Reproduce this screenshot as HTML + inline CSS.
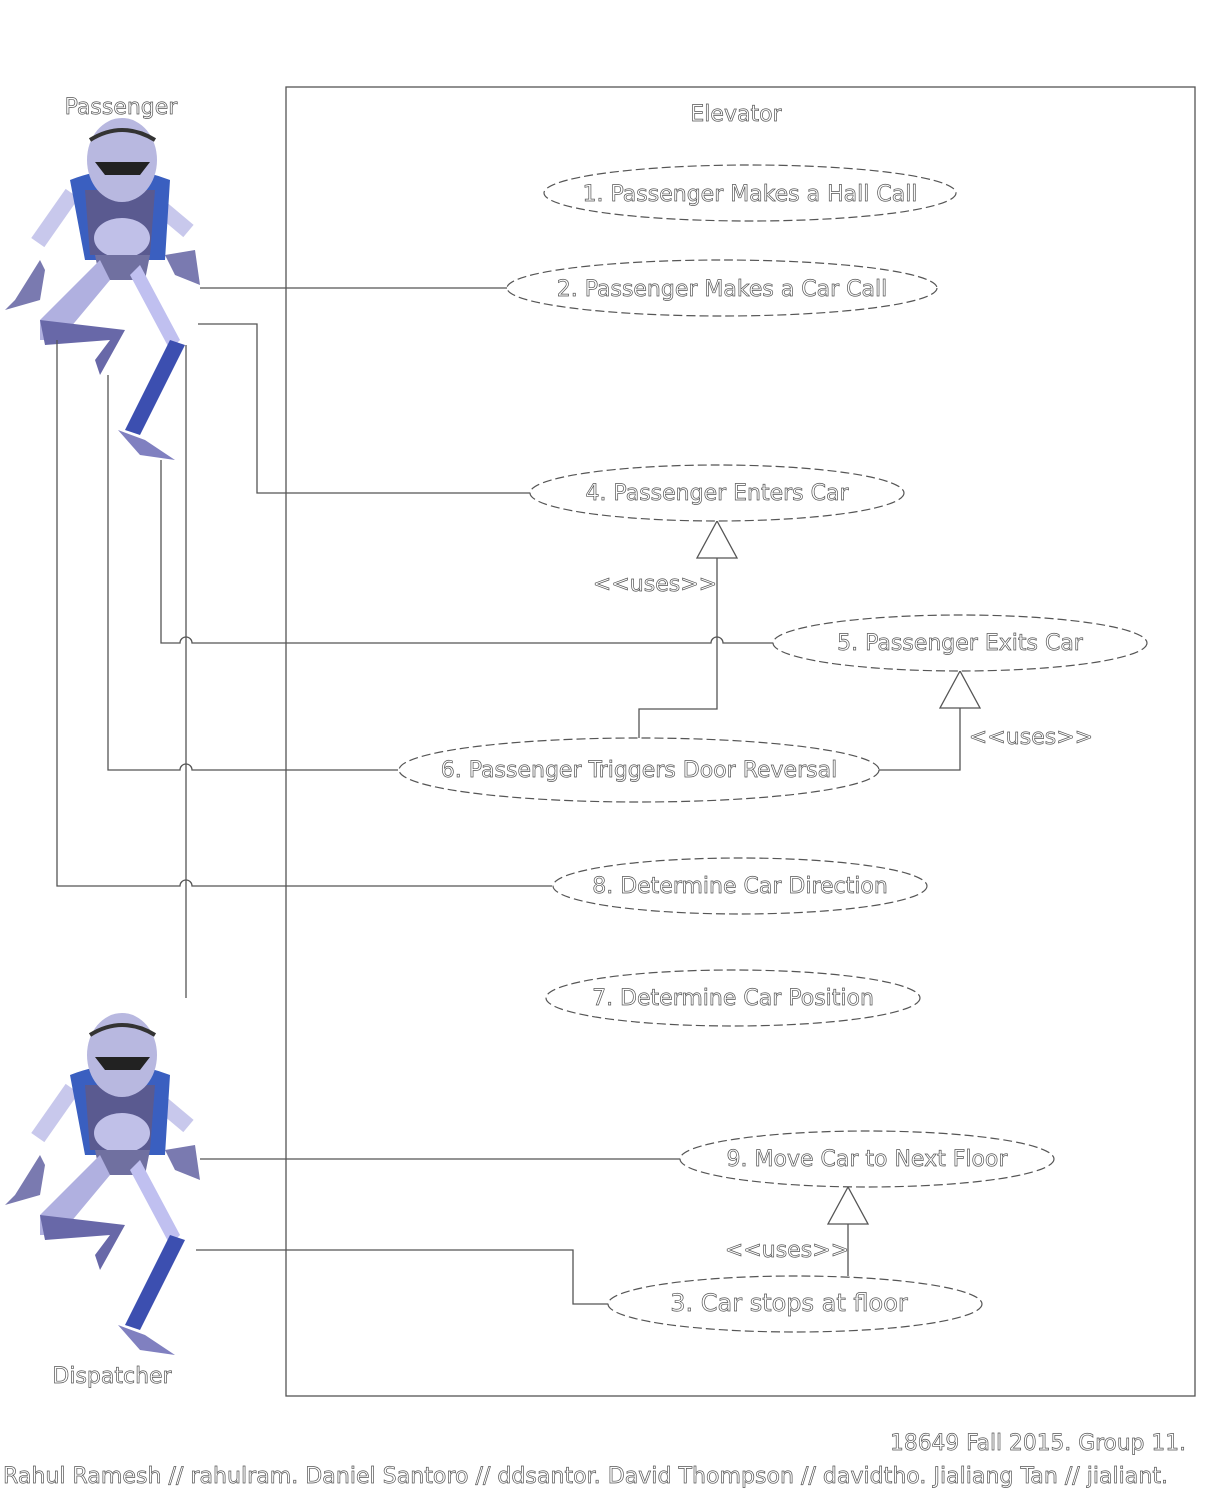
<!DOCTYPE html>
<html><head><meta charset="utf-8"><style>
html,body{margin:0;padding:0;background:#fff;width:1226px;height:1504px;overflow:hidden}
svg text{font-family:"DejaVu Sans","Liberation Sans",sans-serif;fill:#fff;stroke:#555;stroke-width:0.7}
</style></head><body>
<svg width="1226" height="1504" viewBox="0 0 1226 1504" xmlns="http://www.w3.org/2000/svg">
<defs>
<g id="robot">
 <path d="M40,260 L15,300 L5,310 L40,300 L45,270Z" fill="#7a7ab0"/>
 <rect x="25" y="210" width="60" height="16" transform="rotate(-55 55 218)" fill="#c8c8ec"/>
 <rect x="140" y="205" width="55" height="16" transform="rotate(40 167 213)" fill="#c8c8ec"/>
 <path d="M165,255 L195,250 L200,285 L175,275Z" fill="#7a7ab0"/>
 <path d="M70,180 Q120,160 170,180 L165,260 L85,260Z" fill="#3a5fc0"/>
 <path d="M85,190 L155,190 L150,255 L90,255Z" fill="#5a5a90"/>
 <ellipse cx="122" cy="238" rx="28" ry="20" fill="#c0c0e8"/>
 <ellipse cx="122" cy="160" rx="35" ry="42" fill="#b8b8e0"/>
 <path d="M90,140 Q122,120 155,140" stroke="#333" stroke-width="4" fill="none"/>
 <path d="M95,162 L150,162 L140,175 L105,175Z" fill="#222"/>
 <path d="M95,255 L150,255 L145,280 L100,280Z" fill="#7070a0"/>
 <path d="M100,260 L40,320 L40,340 L60,340 L110,280Z" fill="#b0b0e0"/>
 <path d="M40,320 L125,330 L100,375 L95,360 L110,340 L45,345Z" fill="#6868a8"/>
 <path d="M140,265 L180,340 L170,350 L130,275Z" fill="#c0c0f0"/>
 <path d="M170,340 L185,345 L140,435 L125,430Z" fill="#3c4fb0"/>
 <path d="M118,430 L145,440 L175,460 L140,455Z" fill="#8080c0"/>
</g>
</defs>
<use href="#robot" x="0" y="0"/>
<use href="#robot" x="0" y="895"/>

<g fill="none" stroke="#555" stroke-width="1.3">
 <rect x="286" y="87" width="909" height="1309"/>
 <line x1="200" y1="288" x2="507" y2="288"/>
 <polyline points="198,324 257,324 257,493 530,493"/>
 <path d="M161,460 L161,643 L180,643 A6,6 0 0 1 192,643 L711,643 A6,6 0 0 1 723,643 L773,643"/>
 <path d="M108,375 L108,770 L180,770 A6,6 0 0 1 192,770 L398,770"/>
 <path d="M57,340 L57,886 L180,886 A6,6 0 0 1 192,886 L552,886"/>
 <line x1="186" y1="345" x2="186" y2="998"/>
 <polyline points="717,558 717,709 639,709 639,738"/>
 <polygon points="717,521 697,558 737,558" fill="#fff"/>
 <polyline points="960,708 960,770 879,770"/>
 <polygon points="960,671 940,708 980,708" fill="#fff"/>
 <line x1="200" y1="1159" x2="680" y2="1159"/>
 <polyline points="196,1250 573,1250 573,1304 608,1304"/>
 <line x1="848" y1="1224" x2="848" y2="1276"/>
 <polygon points="848,1187 828,1224 868,1224" fill="#fff"/>
</g>
<g fill="#fff" stroke="#555" stroke-width="1.2" stroke-dasharray="9,4">
 <ellipse cx="750" cy="193" rx="206" ry="28"/>
 <ellipse cx="722" cy="288" rx="215" ry="28"/>
 <ellipse cx="717" cy="493" rx="187" ry="28"/>
 <ellipse cx="960" cy="643" rx="187" ry="28"/>
 <ellipse cx="639" cy="770" rx="240" ry="32"/>
 <ellipse cx="740" cy="886" rx="187" ry="28"/>
 <ellipse cx="733" cy="998" rx="187" ry="28"/>
 <ellipse cx="867" cy="1159" rx="187" ry="28"/>
 <ellipse cx="795" cy="1304" rx="187" ry="28"/>
</g>
<g font-size="22" text-anchor="middle">
 <text x="121" y="114">Passenger</text>
 <text x="112" y="1383">Dispatcher</text>
 <text x="736" y="121">Elevator</text>
 <text x="750" y="201">1. Passenger Makes a Hall Call</text>
 <text x="722" y="296">2. Passenger Makes a Car Call</text>
 <text x="717" y="500">4. Passenger Enters Car</text>
 <text x="960" y="650">5. Passenger Exits Car</text>
 <text x="639" y="777">6. Passenger Triggers Door Reversal</text>
 <text x="740" y="893">8. Determine Car Direction</text>
 <text x="733" y="1005">7. Determine Car Position</text>
 <text x="867" y="1166">9. Move Car to Next Floor</text>
 <text x="789" y="1311" font-size="24">3. Car stops at floor</text>
 <text x="655" y="591">&lt;&lt;uses&gt;&gt;</text>
 <text x="1031" y="744">&lt;&lt;uses&gt;&gt;</text>
 <text x="787" y="1257">&lt;&lt;uses&gt;&gt;</text>
</g>
<g font-size="22">
 <text x="890" y="1450" textLength="296" lengthAdjust="spacingAndGlyphs">18649 Fall 2015. Group 11.</text>
 <text x="3" y="1483" textLength="1165" lengthAdjust="spacingAndGlyphs">Rahul Ramesh // rahulram. Daniel Santoro // ddsantor. David Thompson // davidtho. Jialiang Tan // jialiant.</text>
</g>
</svg>
</body></html>
